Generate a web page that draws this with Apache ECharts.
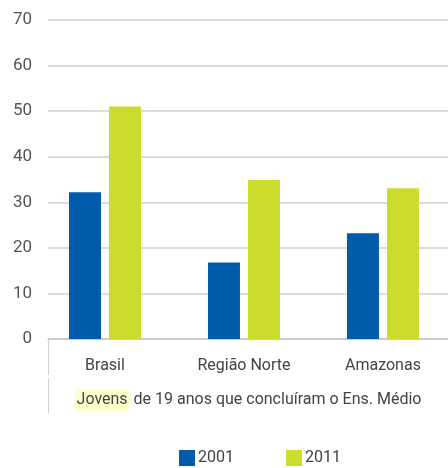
<!DOCTYPE html>
<html>
<head>
<meta charset="utf-8">
<script src="https://cdn.jsdelivr.net/npm/echarts@6/dist/echarts.min.js"></script>
<style>
  html, body { margin: 0; padding: 0; background: #fff; }
  #chart { width: 448px; height: 468px; }
</style>
</head>
<body>
<div id="chart"></div>
<script>
// dados
var categories = ["Brasil", "Região Norte", "Amazonas"];
var seriesNames = ["2001", "2011"];
var values2001 = [32.2, 16.8, 23.2];
var values2011 = [51.0, 34.9, 33.1];

var font = "Roboto, sans-serif";
var chart = echarts.init(document.getElementById("chart"));

// as barras ficam num eixo numérico (índice da categoria) para deixar
// a primeira categoria mais perto do eixo, como no original
function pairs(vals) {
  return vals.map(function (v, i) { return [i, v]; });
}

var option = {
  animation: false,
  textStyle: { fontFamily: font },
  title: {
    text: "{hl|Jovens} de 19 anos que concluíram o Ens. Médio",
    left: 248,
    textAlign: "center",
    top: 389,
    padding: 0,
    textStyle: {
      fontFamily: font,
      fontSize: 16,
      fontWeight: "normal",
      color: "#444",
      rich: {
        hl: {
          fontFamily: font,
          fontSize: 16,
          color: "#444",
          backgroundColor: "#ffffcc",
          borderRadius: 4,
          padding: [3, 2, 3, 2]
        }
      }
    }
  },
  legend: {
    data: seriesNames,
    left: 179,
    top: 450,
    padding: 0,
    itemWidth: 16,
    itemHeight: 16,
    itemGap: 52,
    icon: "rect",
    textStyle: { fontFamily: font, fontSize: 16, color: "#444", padding: [0, 0, 0, -2] }
  },
  grid: {
    left: 48,
    top: 20,
    right: 0,
    bottom: 129,
    outerBoundsMode: "none",
    containLabel: false
  },
  xAxis: {
    type: "value",
    min: -0.41,
    max: 2.468,
    splitLine: { show: false },
    axisTick: { show: false },
    axisLine: { onZero: false, lineStyle: { color: "#c8c8c8", width: 1.5 } },
    axisLabel: {
      customValues: [0, 1, 2],
      formatter: function (v) { return categories[Math.round(v)]; },
      fontFamily: font, fontSize: 16, color: "#444", margin: 19
    }
  },
  yAxis: {
    type: "value",
    min: 0,
    max: 70,
    interval: 10,
    axisLine: { show: false },
    axisTick: { show: false },
    splitLine: { lineStyle: { color: "#cfcfcf", width: 1.5 } },
    axisLabel: { fontFamily: font, fontSize: 17, color: "#555", margin: 16 }
  },
  graphic: [
    { type: "line", shape: { x1: 48.5, y1: 340, x2: 48.5, y2: 375 }, style: { stroke: "#d0d0d0", lineWidth: 1 } },
    { type: "line", shape: { x1: 48.5, y1: 378, x2: 48.5, y2: 413 }, style: { stroke: "#d0d0d0", lineWidth: 1 } }
  ],
  series: [
    {
      name: "2001",
      type: "bar",
      data: pairs(values2001),
      barWidth: 32,
      barGap: "25%",
      itemStyle: { color: "#005baa" }
    },
    {
      name: "2011",
      type: "bar",
      data: pairs(values2011),
      barWidth: 32,
      barGap: "25%",
      itemStyle: { color: "#cbdc2b" }
    }
  ]
};

chart.setOption(option);
</script>
</body>
</html>
